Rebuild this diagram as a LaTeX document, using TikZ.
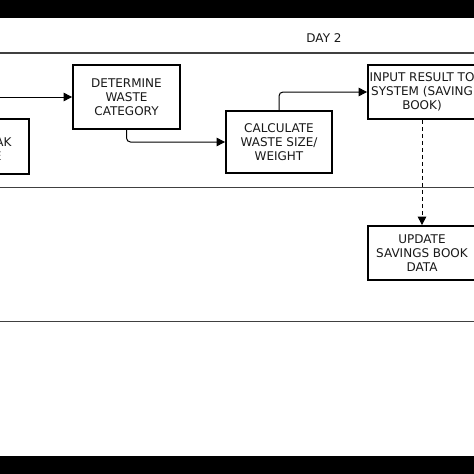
\documentclass[tikz,border=0pt]{standalone}
\usepackage{fontspec}
\setmainfont{DejaVu Sans}
\usetikzlibrary{arrows.meta}
\begin{document}
\begin{tikzpicture}[x=1pt,y=-1pt,
  txt/.style={font=\fontsize{12}{14}\selectfont, text=black!90},
  box/.style={txt, draw, line width=1.8pt, align=center, inner sep=0pt},
  conn/.style={line width=1pt, -{Triangle[length=8.5pt,width=8.5pt]}, rounded corners=4pt},
  lane/.style={line width=1.2pt, draw=black!75}]
\clip (0,0) rectangle (474,474);
\fill[white] (0,0) rectangle (474,474);
\fill[black] (0,0) rectangle (474,18);
\fill[black] (0,456) rectangle (474,474);
\node[txt] (day) at (324,38) {DAY 2};
\draw[lane] (0,53) -- (474,53);
\draw[lane] (0,187.5) -- (474,187.5);
\draw[lane] (0,321.5) -- (474,321.5);
\node[box, minimum width=106pt, minimum height=55pt] (left) at (-24,146.5) {};
\node[txt, anchor=base east] (frag1) at (15,146) {AK};
\node[txt, anchor=base east] (frag2) at (5,160) {E};
\node[box, minimum width=107pt, minimum height=64pt] (det) at (126.5,97) {DETERMINE\\WASTE\\CATEGORY};
\node[box, minimum width=106pt, minimum height=62pt] (calc) at (279,142) {CALCULATE\\WASTE SIZE/\\WEIGHT};
\node[box, minimum width=108pt, minimum height=54pt] (input) at (422,92) {INPUT RESULT TO\\SYSTEM (SAVING\\BOOK)};
\node[box, minimum width=108pt, minimum height=54pt] (update) at (422,253) {UPDATE\\SAVINGS BOOK\\DATA};
\coordinate (l0) at (0,97);
\draw[conn] (l0) -- (det.west);
\draw[conn] (det.south) |- (calc.west);
\draw[conn] (calc.north) |- (input.west);
\draw[conn, dash pattern=on 4pt off 3pt] (input.south) -- (update.north);
\end{tikzpicture}
\end{document}
